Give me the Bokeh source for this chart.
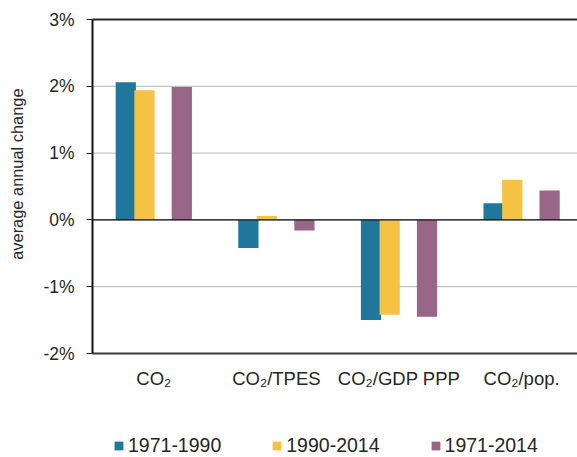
import numpy as np
from bokeh.plotting import figure
from bokeh.models import (Range1d, FixedTicker, PrintfTickFormatter, Legend, LegendItem,
                          ColumnDataSource)
from bokeh.core.properties import value
from bokeh.embed import file_html
from bokeh.resources import INLINE

categories = ["CO\u2082", "CO\u2082/TPES", "CO\u2082/GDP PPP", "CO\u2082/pop."]
series_names = ["1971-1990", "1990-2014", "1971-2014"]
v_1971_1990 = [2.06, -0.42, -1.50, 0.25]
v_1990_2014 = [1.94, 0.06, -1.42, 0.60]
v_1971_2014 = [1.99, -0.16, -1.45, 0.44]
y_ticks = [-2, -1, 0, 1, 2, 3]
y_axis_title = "average annual change"

# styling / layout
colors = ["#1f789b", "#f5c243", "#9a6687"]
offsets = [-0.2285, -0.076, 0.2285]
bar_width = 0.165
FONT = "Liberation Sans"
TXT = "#262626"
W, H = 577, 457
PX_X = 122.6          # pixels per category
PX_Y = 66.8           # pixels per 1 %
LEFT, TOP = 92, 19    # pixel position of the plot area's top-left corner

y_min, y_max = min(y_ticks), max(y_ticks)
x_end = (W - LEFT) / PX_X
x_start = -LEFT / PX_X
y_top = y_max + TOP / PX_Y
y_bot = y_min - (H - TOP - (y_max - y_min) * PX_Y) / PX_Y

p = figure(width=W, height=H, output_backend="svg", toolbar_location=None,
           x_range=Range1d(x_start, x_end), y_range=Range1d(y_bot, y_top),
           min_border_left=0, min_border_right=0, min_border_top=0, min_border_bottom=0)
p.outline_line_color = None
p.background_fill_color = "white"
p.border_fill_color = "white"
p.xgrid.visible = False
p.ygrid.visible = False

# horizontal grid lines at the tick values
p.segment(x0=0, x1=x_end, y0=y_ticks, y1=y_ticks, line_color="#b5b5b5", line_width=1)

centers = np.arange(len(categories)) + 0.5
renderers = []
for vals, col, off in zip([v_1971_1990, v_1990_2014, v_1971_2014], colors, offsets):
    src = ColumnDataSource(dict(x=centers + off, top=vals))
    r = p.vbar(x="x", top="top", bottom=0, width=bar_width, source=src,
               fill_color=col, line_color=None)
    renderers.append(r)

# zero line and top border
p.segment(x0=0, x1=x_end, y0=0, y1=0, line_color="#111111", line_width=1.3)
p.segment(x0=0, x1=x_end, y0=y_max, y1=y_max, line_color="#262626", line_width=2)

# y axis
yax = p.yaxis[0]
yax.fixed_location = 0
yax.bounds = (y_min, y_max)
yax.ticker = FixedTicker(ticks=y_ticks)
yax.formatter = PrintfTickFormatter(format="%d%%")
yax.major_tick_out = 6
yax.major_tick_in = 0
yax.minor_tick_line_color = None
yax.major_tick_line_color = "#222222"
yax.axis_line_color = "#111111"
yax.axis_line_width = 2
yax.major_label_text_font = FONT
yax.major_label_text_font_size = "17.5px"
yax.major_label_text_color = TXT
yax.major_label_standoff = 12

# x axis
xax = p.xaxis[0]
xax.fixed_location = y_min
xax.bounds = (0, x_end)
xax.ticker = FixedTicker(ticks=list(centers))
xax.major_label_overrides = {float(c): cat for c, cat in zip(centers, categories)}
xax.major_tick_line_color = None
xax.minor_tick_line_color = None
xax.axis_line_color = "#3a3a3a"
xax.axis_line_width = 2
xax.major_label_text_font = FONT
xax.major_label_text_font_size = "18.5px"
xax.major_label_text_color = TXT
xax.major_label_standoff = 8

# y axis title
p.text(x=[(16.5 - LEFT) / PX_X], y=[y_max - (173.6 - TOP) / PX_Y], text=[y_axis_title],
       angle=np.pi / 2, text_align="center", text_baseline="middle",
       text_font=value(FONT), text_font_size="16.4px", text_color=TXT)

legend = Legend(items=[LegendItem(label=n, renderers=[r]) for n, r in zip(series_names, renderers)],
                orientation="horizontal", location=(113, 0),
                border_line_color=None, background_fill_alpha=0, padding=0, margin=0,
                spacing=50, glyph_width=11, glyph_height=11, label_standoff=4,
                label_text_font=FONT, label_text_font_size="19.5px", label_text_color=TXT)
p.add_layout(legend)

open("out.html", "w").write(file_html(p, INLINE))
